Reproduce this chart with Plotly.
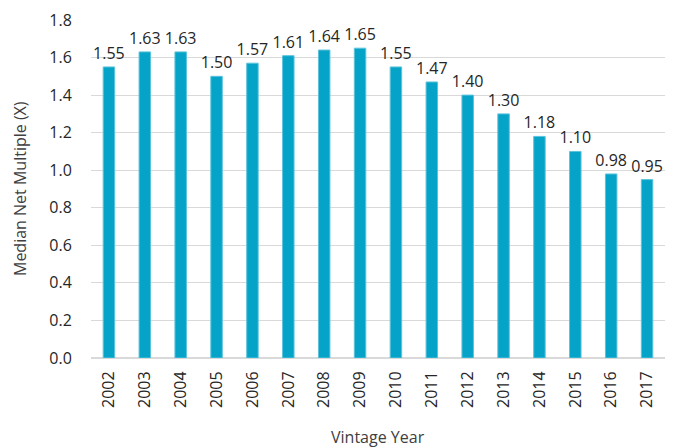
import plotly.graph_objects as go

years = ["2002","2003","2004","2005","2006","2007","2008","2009","2010","2011","2012","2013","2014","2015","2016","2017"]
values = [1.55,1.63,1.63,1.50,1.57,1.61,1.64,1.65,1.55,1.47,1.40,1.30,1.18,1.10,0.98,0.95]
labels = ["%.2f" % v for v in values]

fig = go.Figure(go.Bar(
    x=years, y=values, text=labels, textposition="outside",
    textfont=dict(size=16, color="#262626"),
    constraintext="none",
    marker=dict(color="#05A3C7", line=dict(width=1, color="#5CC3DC")),
    cliponaxis=False,
))
fig.update_layout(
    width=683, height=448,
    margin=dict(l=91, r=18, t=20, b=90),
    paper_bgcolor="white", plot_bgcolor="white",
    font=dict(family="Open Sans", size=16, color="#333"),
    bargap=0.68, showlegend=False,
    xaxis=dict(type="category", tickangle=-90, showline=False,
               ticks="outside", ticklen=6, tickcolor="rgba(0,0,0,0)",
               automargin=False, tickfont=dict(size=16, color="#262626")),
    yaxis=dict(range=[0, 1.8], dtick=0.2, tickformat=".1f", showgrid=True,
               gridcolor="#D9D9D9", zeroline=True, zerolinecolor="#D9D9D9", zerolinewidth=1.5,
               automargin=False, ticks="outside", ticklen=15, tickcolor="rgba(0,0,0,0)",
               tickfont=dict(size=16, color="#262626")),
    annotations=[
        dict(text="Vintage Year", xref="paper", yref="paper", x=0.5, y=0,
             yshift=-79, showarrow=False, font=dict(size=16, color="#404040"),
             xanchor="center", yanchor="middle"),
        dict(text="Median Net Multiple (X)", xref="paper", yref="paper", x=0, y=0.5,
             xshift=-71, showarrow=False, textangle=-90, font=dict(size=16, color="#404040"),
             xanchor="center", yanchor="middle"),
    ],
)
fig.write_html("out.html", config={"displayModeBar": False},
               post_script="document.body.style.margin='0';document.body.style.overflow='hidden';")
